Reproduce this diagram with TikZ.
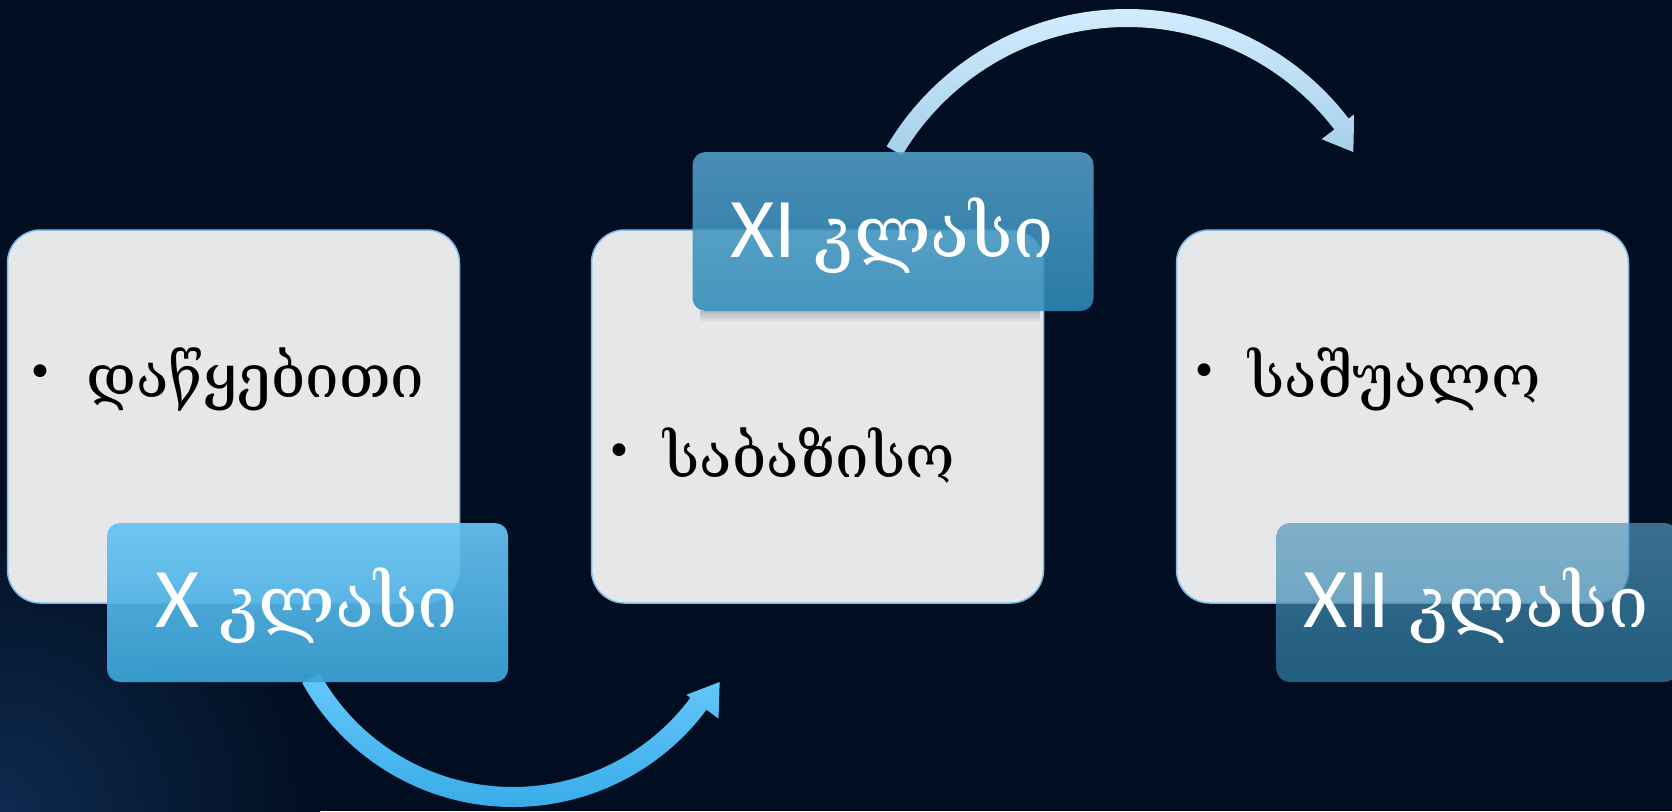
\documentclass[tikz,border=0pt]{standalone}
\usepackage{fontspec}
\setmainfont{DejaVu Serif}
\newfontfamily\geofont{DejaVu Serif}
\newfontfamily\latfont{Carlito}
\definecolor{bgnavy}{HTML}{010E21}
\definecolor{bgglow}{HTML}{0E2A4F}
\definecolor{panelfill}{HTML}{E6E7E9}
\definecolor{panelline}{HTML}{7CBCE6}
\definecolor{panelshade}{HTML}{B4B8BE}
\definecolor{tagAtop}{HTML}{68C2F2}
\definecolor{tagAbot}{HTML}{3AA4D7}
\definecolor{tagBtop}{HTML}{549FCA}
\definecolor{tagBbot}{HTML}{2F8BB8}
\definecolor{tagCtop}{HTML}{5398BE}
\definecolor{tagCbot}{HTML}{2E7FA6}
\definecolor{arrAtop}{HTML}{66C8FA}
\definecolor{arrAbot}{HTML}{38ACE8}
\definecolor{arrBtop}{HTML}{D2ECFF}
\definecolor{arrBbot}{HTML}{A6CFEA}
\begin{document}
\begin{tikzpicture}[x=1pt,y=-1pt,
  panel/.style={draw=panelline, line width=1.5pt, fill=panelfill,
    rounded corners=33pt, minimum width=452pt, minimum height=373pt,
    inner sep=0pt, outer sep=0pt},
  tag/.style={rounded corners=13pt, minimum width=401pt, minimum height=159pt,
    inner sep=0pt, outer sep=0pt},
  tagtext/.style={text=white, anchor=base, inner sep=0pt},
  itemtext/.style={text=black, anchor=base west, inner sep=0pt,
    font=\geofont\fontsize{60}{66}\selectfont},
  dot/.style={text=black, anchor=center, inner sep=0pt,
    font=\geofont\fontsize{44}{48}\selectfont},
]
\useasboundingbox (0,0) rectangle (1672,811);
% backdrop with a soft glow in the lower left corner
\fill[bgnavy] (0,0) rectangle (1672,811);
\begin{scope}
  \clip (0,0) rectangle (1672,811);
  \shade[inner color=bgglow, outer color=bgnavy] (0,811) circle[radius=320];
\end{scope}

% curved arrows (drawn first, they pass under the tags)
\coordinate (hubA) at (513,566);
\coordinate (hubB) at (1127,288);
\begin{scope}[shift={(hubA)}]
  \shade[top color=arrAtop, bottom color=arrAbot]
    (151:241) arc[start angle=151, end angle=36.6, radius=241]
    -- (36.6:256) -- (29.3:237) -- (36.6:216) -- (36.6:221)
    arc[start angle=36.6, end angle=151, radius=221] -- cycle;
\end{scope}
\begin{scope}[shift={(hubB)}]
  \shade[top color=arrBtop, bottom color=arrBbot]
    (-149.5:279) arc[start angle=-149.5, end angle=-37.4, radius=279]
    -- (-37.4:286) -- (-31:264) -- (-37.4:245) -- (-37.4:261)
    arc[start angle=-37.4, end angle=-149.5, radius=261] -- cycle;
\end{scope}

% panels
\node[panel] (p1) at (233.5,416.5) {};
\node[panel] (p2) at (817.5,416.5) {};
\node[panel] (p3) at (1402.5,416.5) {};

% soft shadow cast by the middle tag onto its panel
\shade[top color=panelshade, bottom color=panelfill] (700,311) rectangle (1040,322);

% panel items
\node[dot] (b1) at (40,376) {•};
\node[itemtext] (t1) at (86,397) {დაწყებითი};
\node[dot] (b2) at (619,455) {•};
\node[itemtext] (t2) at (663,477) {საბაზისო};
\node[dot] (b3) at (1204,375) {•};
\node[itemtext] (t3) at (1248,397) {საშუალო};

% grade tags
\node[tag, top color=tagAtop, bottom color=tagAbot, fill opacity=0.93] (g1) at (307.5,602.5) {};
\node[tag, top color=tagBtop, bottom color=tagBbot, fill opacity=0.88] (g2) at (893,231.5) {};
\node[tag, top color=tagCtop, bottom color=tagCbot, fill opacity=0.70] (g3) at (1477,602.5) {};

\node[tagtext] (l1) at (307,627) {{\latfont\fontsize{85}{90}\selectfont X }{\geofont\fontsize{72}{80}\selectfont კლასი}};
\node[tagtext] (l2) at (892,257) {{\latfont\fontsize{85}{90}\selectfont XI }{\geofont\fontsize{72}{80}\selectfont კლასი}};
\node[tagtext] (l3) at (1476,627) {{\latfont\fontsize{85}{90}\selectfont XII }{\geofont\fontsize{72}{80}\selectfont კლასი}};
\end{tikzpicture}
\end{document}
